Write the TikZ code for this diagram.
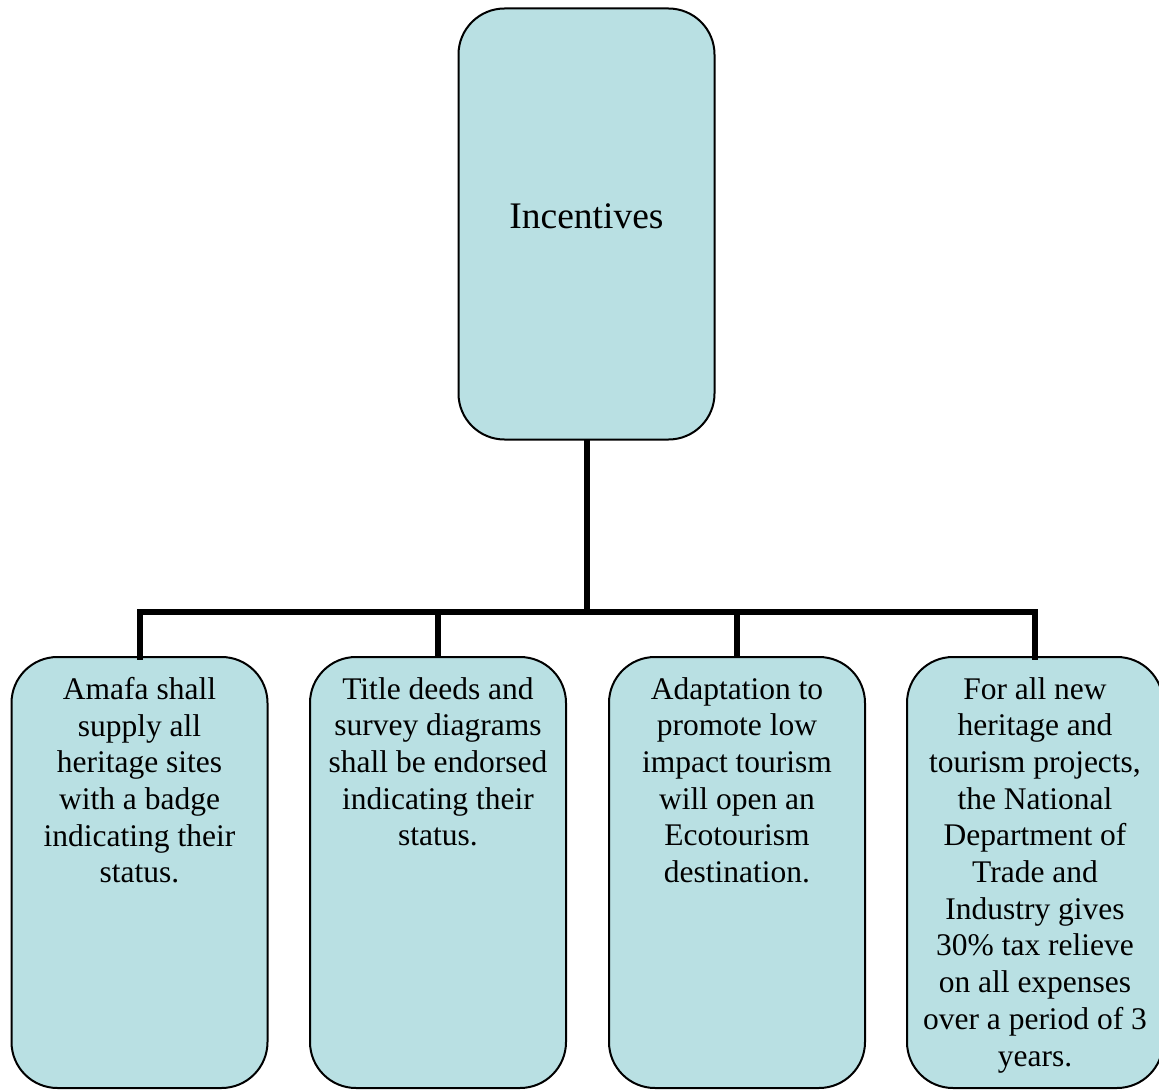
\documentclass[tikz,border=0pt]{standalone}
\usepackage{fontspec}
\setmainfont{Liberation Serif}
\definecolor{boxfill}{RGB}{185,224,227}
\begin{document}
\begin{tikzpicture}[x=1pt,y=-1pt,
  box/.style={draw=black,line width=2pt,fill=boxfill,rounded corners=46pt,
    minimum width=256pt,minimum height=431pt,inner sep=0pt,outer sep=0pt},
  boxtext/.style={anchor=north,inner sep=0pt,align=center,
    font=\fontsize{31.5}{36.7}\selectfont},
  conn/.style={line width=6pt}]
\useasboundingbox (0,0) rectangle (1159,1091);
\node[box] (top) at (586.5,224) {};
\node[anchor=base,inner sep=0pt,font=\fontsize{37.5}{44}\selectfont] (toplabel) at (586.5,229) {Incentives};
\node[box] (b1) at (139.5,872.5) {};
\node[box] (b2) at (438,872.5) {};
\node[box] (b3) at (737,872.5) {};
\node[box] (b4) at (1035,872.5) {};
\node[boxtext] (t1) at (139.5,677) {Amafa shall\\supply all\\heritage sites\\with a badge\\indicating their\\status.};
\node[boxtext] (t2) at (438,677) {Title deeds and\\survey diagrams\\shall be endorsed\\indicating their\\status.};
\node[boxtext] (t3) at (737,677) {Adaptation to\\promote low\\impact tourism\\will open an\\Ecotourism\\destination.};
\node[boxtext] (t4) at (1035,677) {For all new\\heritage and\\tourism projects,\\the National\\Department of\\Trade and\\Industry gives\\30\% tax relieve\\on all expenses\\over a period of 3\\years.};
\coordinate (hub) at (586.5,612);
\draw[conn] (top.south) -- (hub);
\draw[conn,line cap=rect] (b1.north) |- (hub) -| (b4.north);
\draw[conn] (b2.north) -- (b2.north |- hub);
\draw[conn] (b3.north) -- (b3.north |- hub);
\end{tikzpicture}
\end{document}
